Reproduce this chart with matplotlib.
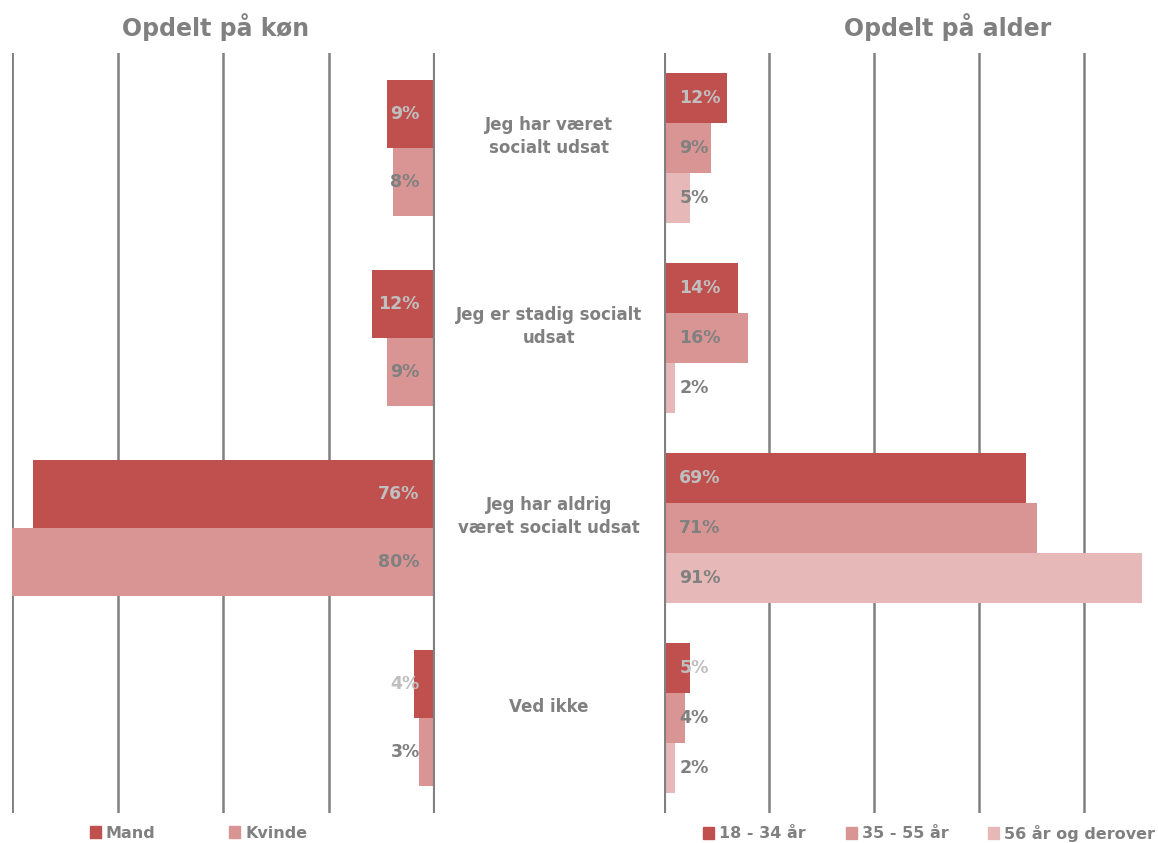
import matplotlib.pyplot as plt
import matplotlib.transforms as mtransforms
import numpy as np
from matplotlib.patches import Patch

categories = ["Jeg har været\nsocialt udsat", "Jeg er stadig socialt\nudsat",
              "Jeg har aldrig\nværet socialt udsat", "Ved ikke"]

gender_names = ["Mand", "Kvinde"]
mand = [9, 12, 76, 4]
kvinde = [8, 9, 80, 3]

age_names = ["18 - 34 år", "35 - 55 år", "56 år og derover"]
age_18_34 = [12, 14, 69, 5]
age_35_55 = [9, 16, 71, 4]
age_56 = [5, 2, 91, 2]

colors = ["#C0504D", "#D99594", "#E6B8B7"]
label_colors = ["#BFBFBF", "#808080", "#808080"]
gray = "#808080"

plt.rcParams['font.family'] = ['DejaVu Sans']
plt.rcParams['font.weight'] = 'bold'

fig = plt.figure(figsize=(11.58, 8.43), dpi=100)
top = 1 - 53 / 843
height = 760 / 843
ax1 = fig.add_axes([12 / 1158, top - height, 423 / 1158, height])
ax2 = fig.add_axes([664 / 1158, top - height, 93 * 5.25 / 1158, height])

y = np.arange(len(categories))


def style(ax, xlim, zero_side):
    ax.set_xlim(*xlim)
    ax.set_ylim(len(categories) - 0.5, -0.5)
    for s in ax.spines.values():
        s.set_visible(False)
    ax.set_xticks([20, 40, 60, 80])
    ax.tick_params(left=False, bottom=False, labelleft=False, labelbottom=False)
    ax.grid(axis='x', color=gray, linewidth=1.8)
    ax.set_axisbelow(True)
    ax.axvline(0, color=gray, linewidth=3, zorder=5)
    if zero_side == 'right':
        ax.axvline(80, color=gray, linewidth=1.8, zorder=0)


# left panel: by gender
style(ax1, (80, 0), 'right')
h1 = 0.358
for i, vals in enumerate([mand, kvinde]):
    pos = y + (i - 0.5) * h1
    ax1.barh(pos, vals, height=h1, color=colors[i], label=gender_names[i])
    for p, v in zip(pos, vals):
        ax1.annotate(f"{v}%", xy=(0, p), xytext=(-11, 0), textcoords='offset points',
                     ha='right', va='center', fontsize=12.5, fontweight='bold',
                     color=label_colors[i])

# right panel: by age
style(ax2, (0, 93), 'left')
h2 = 0.263
for i, vals in enumerate([age_18_34, age_35_55, age_56]):
    pos = y + (i - 1) * h2
    ax2.barh(pos, vals, height=h2, color=colors[i], label=age_names[i])
    for p, v in zip(pos, vals):
        ax2.annotate(f"{v}%", xy=(0, p), xytext=(11, 0), textcoords='offset points',
                     ha='left', va='center', fontsize=12.5, fontweight='bold',
                     color=label_colors[i])

# category labels in the middle
trans = mtransforms.blended_transform_factory(fig.transFigure, ax2.transData)
for yi, cat in zip(y, categories):
    fig.text(549 / 1158, yi - 0.06, cat, transform=trans, ha='center', va='center',
             fontsize=12, fontweight='bold', color=gray, linespacing=1.3)

fig.text(216 / 1158, 1 - 27 / 843, "Opdelt på køn", ha='center', va='center',
         fontsize=17, fontweight='bold', color=gray)
fig.text(948 / 1158, 1 - 27 / 843, "Opdelt på alder", ha='center', va='center',
         fontsize=17, fontweight='bold', color=gray)

leg_kw = dict(loc='center left', frameon=False, handlelength=0.7, handleheight=0.7,
              handletextpad=0.3, borderaxespad=0, borderpad=0,
              prop=dict(size=11.5, weight='bold'), labelcolor=gray)
fig.legend(handles=[Patch(color=colors[i], label=gender_names[i]) for i in range(2)],
           ncol=2, columnspacing=4.6, bbox_to_anchor=(90 / 1158, 1 - 833 / 843), **leg_kw)
fig.legend(handles=[Patch(color=colors[i], label=age_names[i]) for i in range(3)],
           ncol=3, columnspacing=2.5, bbox_to_anchor=(703 / 1158, 1 - 833 / 843), **leg_kw)

fig.savefig("out.png", dpi=100)
